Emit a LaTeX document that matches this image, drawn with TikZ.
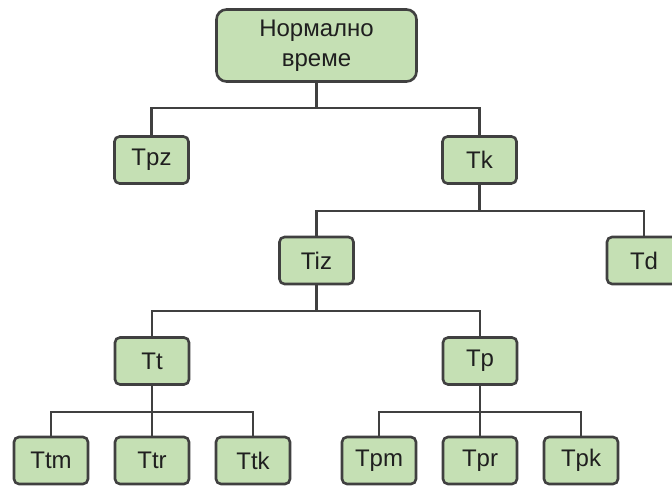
\documentclass[tikz,border=0pt]{standalone}
\usepackage{fontspec}
\setmainfont{Liberation Sans}
\definecolor{boxfill}{HTML}{C5E0B4}
\definecolor{boxline}{HTML}{404040}
\definecolor{txt}{HTML}{1F1F1F}
\begin{document}
\begin{tikzpicture}[x=1pt,y=1pt,
  box/.style={draw=boxline, fill=boxfill, line width=2.6pt, rounded corners=5pt,
    minimum width=74pt, minimum height=47pt, inner sep=0pt, text=txt,
    font=\fontsize{24}{30}\selectfont},
  topbox/.style={box, rounded corners=10pt, minimum width=200pt, minimum height=72pt, align=center},
  conn/.style={draw=boxline, line width=2.6pt}]
\useasboundingbox (0,0) rectangle (672,487);
\fill[white] (0,0) rectangle (672,487);
% nodes
\node[topbox] (top) at (316.5,441.5) {Нормално\\време};
\node[box] (tpz) at (151.5,327) {Tpz};
\node[box] (tk) at (479.5,327) {Tk};
\node[box] (tiz) at (316.5,226.5) {Tiz};
\node[box] (td) at (644,226.5) {Td};
\node[box] (tt) at (152,126) {Tt};
\node[box] (tp) at (480,126) {Tp};
\node[box] (ttm) at (51,26.5) {Ttm};
\node[box] (ttr) at (152,26.5) {Ttr};
\node[box] (ttk) at (253,26.5) {Ttk};
\node[box] (tpm) at (379,26.5) {Tpm};
\node[box] (tpr) at (480,26.5) {Tpr};
\node[box] (tpk) at (581,26.5) {Tpk};
% bus coordinates
\coordinate (b1) at (316.5,379);
\coordinate (b2) at (479.5,276);
\coordinate (b3) at (316.5,176);
\coordinate (b4) at (152,75);
\coordinate (b5) at (480,75);
% connectors
\draw[conn] (top.south) -- (b1);
\draw[conn] (b1) -| (tpz.north);
\draw[conn] (b1) -| (tk.north);
\draw[conn] (tk.south) -- (b2);
\draw[conn] (b2) -| (tiz.north);
\draw[conn] (b2) -| (td.north);
\draw[conn] (tiz.south) -- (b3);
\draw[conn] (b3) -| (tt.north);
\draw[conn] (b3) -| (tp.north);
\draw[conn] (tt.south) -- (b4);
\draw[conn] (b4) -| (ttm.north);
\draw[conn] (b4) -- (ttr.north);
\draw[conn] (b4) -| (ttk.north);
\draw[conn] (tp.south) -- (b5);
\draw[conn] (b5) -| (tpm.north);
\draw[conn] (b5) -- (tpr.north);
\draw[conn] (b5) -| (tpk.north);
\end{tikzpicture}
\end{document}
